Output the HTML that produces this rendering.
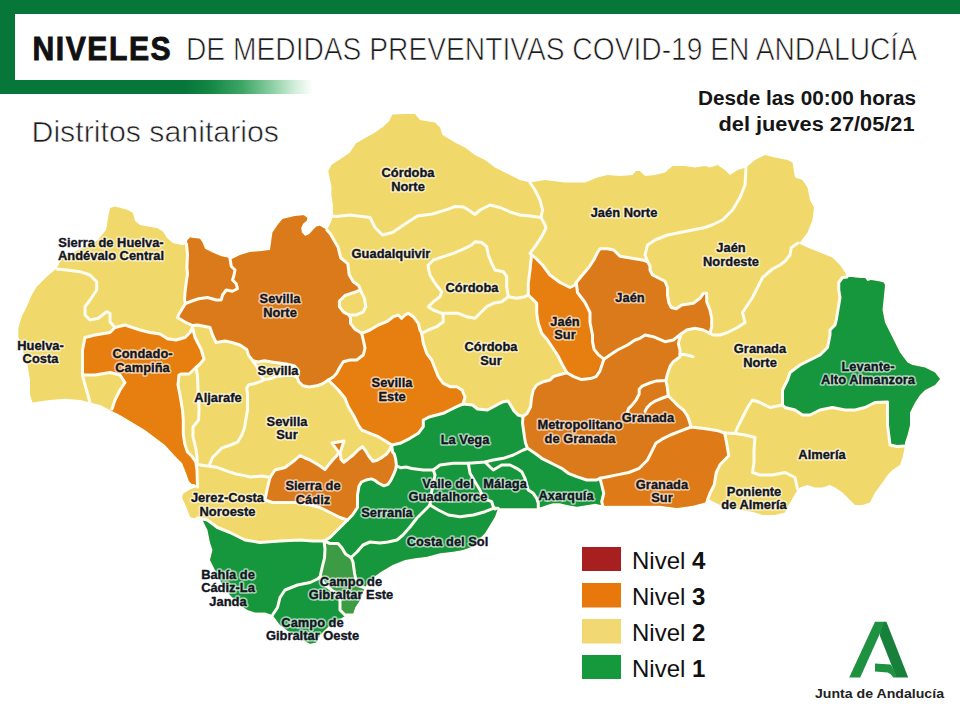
<!DOCTYPE html>
<html><head><meta charset="utf-8"><title>Niveles de medidas preventivas COVID-19 en Andalucía</title>
<style>
html,body{margin:0;padding:0;background:#fff;}
body{width:960px;height:720px;position:relative;overflow:hidden;font-family:"Liberation Sans",Arial,sans-serif;}
svg{position:absolute;left:0;top:0;}
</style></head><body>
<svg width="960" height="720" viewBox="0 0 960 720">
<defs>
<linearGradient id="fade" x1="0" x2="1" y1="0" y2="0">
<stop offset="0" stop-color="#067739"/>
<stop offset="0.2" stop-color="#138743"/>
<stop offset="0.45" stop-color="#3ea766"/>
<stop offset="0.68" stop-color="#8ccfa2"/>
<stop offset="0.86" stop-color="#d2eedb"/>
<stop offset="1" stop-color="#ffffff"/>
</linearGradient>
</defs>
<rect x="0" y="0" width="960" height="14" fill="#067739"/>
<rect x="0" y="0" width="15" height="94" fill="#067739"/>
<rect x="0" y="80" width="185" height="14" fill="#067739"/>
<rect x="185" y="80" width="128" height="14" fill="url(#fade)"/>
<text transform="translate(32.5,59.5) scale(0.9,1)" x="0" y="0" font-family="Liberation Sans, Arial, sans-serif" font-weight="bold" font-size="33.5" fill="#111" stroke="#111" stroke-width="0.9" textLength="153.5" lengthAdjust="spacing">NIVELES</text>
<text x="186" y="59.5" font-family="Liberation Sans, Arial, sans-serif" font-size="30.8" fill="#1a1a1a" stroke="#fff" stroke-width="0.7" paint-order="normal" textLength="731" lengthAdjust="spacingAndGlyphs">DE MEDIDAS PREVENTIVAS COVID-19 EN ANDALUCÍA</text>
<text x="31.5" y="141.5" font-family="Liberation Sans, Arial, sans-serif" font-size="29.5" fill="#1e1e1e" stroke="#fff" stroke-width="0.6" textLength="247.5" lengthAdjust="spacingAndGlyphs">Distritos sanitarios</text>
<text x="916" y="104.7" text-anchor="end" font-family="Liberation Sans, Arial, sans-serif" font-weight="bold" font-size="20" fill="#151515" textLength="218" lengthAdjust="spacingAndGlyphs">Desde las 00:00 horas</text>
<text x="914.5" y="130.8" text-anchor="end" font-family="Liberation Sans, Arial, sans-serif" font-weight="bold" font-size="20" fill="#151515" textLength="196" lengthAdjust="spacingAndGlyphs">del jueves 27/05/21</text>
<defs><clipPath id="land"><polygon points="110,208 115,206.5 128,210 133,213 135,221 140,225 148,226.5 157,228 163,231.5 167,238 173,243 182,245 186.5,244 187.5,240 190,237.5 200,238.75 202.5,242.5 205,248.75 212.5,252.5 221.25,256.25 227.5,257.5 230,259.5 232.5,258.75 240,255 250,251.9 260,251.25 270,250 272.5,232.5 277.5,225 282.5,219 295,216 303.9,215.3 307.4,218 306.7,220.8 303.2,223.6 301.1,227.8 301.8,232.6 305.3,236.1 309.4,234 312.9,229.9 316.4,226.4 319.9,225.7 323.3,227.8 327,230 330.5,223 332.9,216 332.9,204.7 331.4,195.5 331.4,186.3 329.8,178.7 328.3,171 331.4,165 340.5,158.9 349.7,152.7 355.8,143.6 363.4,139 374.1,132.9 383.3,126.8 389.4,120.7 392.4,114.6 405,114 415,114 420,120 435,122.5 440,127.5 442.5,135 455,142.5 465,147.5 475,155 485,160 495,167.5 510,175 520,180 530,182.5 545,180 565,182.5 585,182.5 597.5,177.5 607.5,175 620,176 632.5,175 636,171 640,171 645,176 655,175 665,172.5 672.5,166 685,166 695,167.5 705,166 710,167.5 717.5,165 725,170 730,175 737.5,170 746,167.5 755,160 765,155 775,157.5 787.5,160 792.5,162.5 795,177.5 802.5,180 807.5,187.5 810,200 814,207.5 812.5,220 807.5,232.5 800,242.5 798,243 807.5,247.5 820,252.5 832.5,257.5 840,265 845,272.5 847,277 852.5,276.9 855,277.5 861,278 865,278 867.5,281 871,280 878.75,281.25 883.75,282.5 885,285 884,295 882.5,310 885,322.5 892.5,337.5 900,352.5 907.5,362.5 912.5,365 925,367.5 935,372.5 940,379 935,385 925,390 920,395 915,402.5 910,412.5 910,425 907.5,435 905,442.5 905,446 902.5,457.5 900,465 892.5,470 887.5,475 882.5,482.5 875,492.5 870,502.5 862.5,505 855,505 850,500 842.5,492.5 835,487.5 830,485 822.5,487.5 815,487.5 807.5,485 800,487.5 797.5,490 790,502.5 785,512.5 775,515 762.5,515 755,512.5 742.5,510 730,507.5 720,505 710,500 707.5,498 705,502.5 693,505.8 677,508 660,505.8 643,505.8 627,505.8 614,505.8 604,505.8 595.4,503.75 583,505.8 577,506.7 567,505 560,503.3 553,503.3 547,505 542,506.7 537,508.3 523,508.3 510,508.3 502,508.3 498,508.3 495,516.7 490,525 485,533.3 478,540 472,546.7 463,550 453,551.7 440,553.3 427,556.7 415,558.3 405,560 392.5,565 380,572.5 370,580 365,587.5 362,594 360,600 355,607.5 352.5,615 345,616 342.5,617.5 335,622.5 327.5,627.5 320,635 316,642.5 310,643.75 302.5,640 290,632.5 280,625 272.5,615 265,612.5 255,612.5 247.5,610 240,605 230,595 222.5,585 215,570 210,560 212.5,550 210,542.5 207.5,530 202.5,520 190.3,517.2 187.5,510.3 184.7,503.3 182,497.8 183.3,493.6 190,489.4 197,486.7 194.4,484 191.7,484 188.9,481 186,472.8 182,463 175,456 165,445 155,437.5 145,430 132.5,422.5 120,415 110,410 100,405 90,402.5 80,400 65,398.75 50,400 32.5,402.5 30,395 30,380 27.5,365 22.5,350 18.3,336.7 18.3,328.3 21.7,316.7 26.7,306.7 31.7,295 36.7,286.7 46.7,276.7 56.7,268.3 62,258 80,249 98,240 106,230 108.3,216.7"/></clipPath></defs>
<polygon points="110,208 115,206.5 128,210 133,213 135,221 140,225 148,226.5 157,228 163,231.5 167,238 173,243 182,245 186.5,244 187.5,240 190,237.5 200,238.75 202.5,242.5 205,248.75 212.5,252.5 221.25,256.25 227.5,257.5 230,259.5 232.5,258.75 240,255 250,251.9 260,251.25 270,250 272.5,232.5 277.5,225 282.5,219 295,216 303.9,215.3 307.4,218 306.7,220.8 303.2,223.6 301.1,227.8 301.8,232.6 305.3,236.1 309.4,234 312.9,229.9 316.4,226.4 319.9,225.7 323.3,227.8 327,230 330.5,223 332.9,216 332.9,204.7 331.4,195.5 331.4,186.3 329.8,178.7 328.3,171 331.4,165 340.5,158.9 349.7,152.7 355.8,143.6 363.4,139 374.1,132.9 383.3,126.8 389.4,120.7 392.4,114.6 405,114 415,114 420,120 435,122.5 440,127.5 442.5,135 455,142.5 465,147.5 475,155 485,160 495,167.5 510,175 520,180 530,182.5 545,180 565,182.5 585,182.5 597.5,177.5 607.5,175 620,176 632.5,175 636,171 640,171 645,176 655,175 665,172.5 672.5,166 685,166 695,167.5 705,166 710,167.5 717.5,165 725,170 730,175 737.5,170 746,167.5 755,160 765,155 775,157.5 787.5,160 792.5,162.5 795,177.5 802.5,180 807.5,187.5 810,200 814,207.5 812.5,220 807.5,232.5 800,242.5 798,243 807.5,247.5 820,252.5 832.5,257.5 840,265 845,272.5 847,277 852.5,276.9 855,277.5 861,278 865,278 867.5,281 871,280 878.75,281.25 883.75,282.5 885,285 884,295 882.5,310 885,322.5 892.5,337.5 900,352.5 907.5,362.5 912.5,365 925,367.5 935,372.5 940,379 935,385 925,390 920,395 915,402.5 910,412.5 910,425 907.5,435 905,442.5 905,446 902.5,457.5 900,465 892.5,470 887.5,475 882.5,482.5 875,492.5 870,502.5 862.5,505 855,505 850,500 842.5,492.5 835,487.5 830,485 822.5,487.5 815,487.5 807.5,485 800,487.5 797.5,490 790,502.5 785,512.5 775,515 762.5,515 755,512.5 742.5,510 730,507.5 720,505 710,500 707.5,498 705,502.5 693,505.8 677,508 660,505.8 643,505.8 627,505.8 614,505.8 604,505.8 595.4,503.75 583,505.8 577,506.7 567,505 560,503.3 553,503.3 547,505 542,506.7 537,508.3 523,508.3 510,508.3 502,508.3 498,508.3 495,516.7 490,525 485,533.3 478,540 472,546.7 463,550 453,551.7 440,553.3 427,556.7 415,558.3 405,560 392.5,565 380,572.5 370,580 365,587.5 362,594 360,600 355,607.5 352.5,615 345,616 342.5,617.5 335,622.5 327.5,627.5 320,635 316,642.5 310,643.75 302.5,640 290,632.5 280,625 272.5,615 265,612.5 255,612.5 247.5,610 240,605 230,595 222.5,585 215,570 210,560 212.5,550 210,542.5 207.5,530 202.5,520 190.3,517.2 187.5,510.3 184.7,503.3 182,497.8 183.3,493.6 190,489.4 197,486.7 194.4,484 191.7,484 188.9,481 186,472.8 182,463 175,456 165,445 155,437.5 145,430 132.5,422.5 120,415 110,410 100,405 90,402.5 80,400 65,398.75 50,400 32.5,402.5 30,395 30,380 27.5,365 22.5,350 18.3,336.7 18.3,328.3 21.7,316.7 26.7,306.7 31.7,295 36.7,286.7 46.7,276.7 56.7,268.3 62,258 80,249 98,240 106,230 108.3,216.7" fill="#F1D86B"/>
<g clip-path="url(#land)">
<polygon points="186,200 323,200 323,226 327,230 330.5,234 333.9,240 338,247 340.8,258 347.8,263.6 349.2,274.7 353.3,281.7 358.9,285.8 360.3,290 353.3,292.8 345,295.5 339.4,301 339.4,306.7 343.6,312.2 349.2,315 350.5,317.8 350.5,323.3 354.7,328.9 361.7,333.3 363.3,340 365,348 363.3,355 356.7,360 350,360 343.3,361.7 340,367 336.7,373.3 333.3,377 328.3,380 322.7,383.75 316.5,385.8 309.2,386.9 302.9,385.8 298.75,381.7 297,377 298.75,371.25 294.6,366 286.25,364 279,363 271.7,361.9 264.4,360.8 258,361.9 252.9,360.8 248.75,355.6 246.7,349.4 240.4,345.2 232,342.5 225,341 216,342.5 212.5,335 210,327.5 197.5,325 192.5,325.5 185,322 177.5,317.5 179,314 182,309 185.5,303.5 184.5,300 185,292.5 186.25,282.5 187.5,273.75 186.9,267.5 187.5,255 186.5,244" fill="#DB7A1A"/>
<polygon points="85,337.5 95,335 110,332.5 115,327.5 125,325 140,330 150,332.5 160,334 167.5,338.75 176,340 185,337.5 190,332.5 192.5,327.5 195,337.5 201,349 204,359 200,364 196,367.5 189,374 181,374 179,375 178,385 180,395 182.5,410 183.3,420 183.3,434 184.7,443.6 187.5,452 191.7,456 195.8,462 197,470 196.5,485 187,486 178,470 140,445 104,418 112,409 115,400 120,390 125,382.5 120,375 110,372.5 95,375 82.5,375 82.5,362.5 82.5,350" fill="#E67F10"/>
<polygon points="361.7,333.3 370,330 378.3,325 386.7,321.7 393.3,316.7 398.3,315 401.7,318.3 405,315 408.3,313.3 413.3,316.7 418.3,323.3 420,330 421.7,333.3 423.3,343.3 426.7,353.3 431.7,360 435,368.3 438.3,376.7 443.3,383.3 450,386.7 456.7,386.7 462,390 465,397 463,404 456.7,406.7 450,410 443.3,413.3 436.7,415 430,416.7 423.3,420 423.3,426.7 418.3,433.3 410,438.3 400,443.3 391.7,445 386.7,441.7 378.3,436.7 370,433.3 361.7,430 358.3,425 353.3,415 348.3,406.7 345,398.3 338.3,390 328.3,380 333.3,377 336.7,373.3 340,367 343.3,361.7 350,360 356.7,360 363.3,355 365,348 363.3,340" fill="#E67F10"/>
<polygon points="270,477.5 275,470 285,467.5 295,460 300,455.5 305,458 310.4,460.2 315.6,463.3 320.8,466.5 325,469.6 328.1,465.4 333.3,459.2 336.5,456 338.8,452.5 332,443 344,441 340.2,452.5 341,459.2 343.75,462.3 347.9,459.2 353.1,455 358.3,449.8 362.5,446.7 365.6,450.8 368.75,456 372.9,461.25 377.1,460.2 382.3,457.1 386.5,454 389.6,449.8 391.7,445 392.5,452 394.3,454 395.7,459.4 396.4,465 395.7,469.2 393.6,474.7 390.8,480.3 388,484.4 383.9,485.8 378.3,483 374.9,480.3 371.4,478.9 366,480 361.5,482 359,486 357.5,495 357.5,507.5 352.5,515 347.5,520 340,517.5 330,512.5 320,507.5 310,505 297.5,502.5 285,502.5 272.5,502.5 265,500 267.5,487.5" fill="#DB7A1B"/>
<polygon points="531.5,255 535,257.5 542.5,265 550,275 560,282.5 570,287.5 575,285 576.25,282.5 577.5,292.5 585,302.5 590,312.5 590,322.5 592.5,335 592.5,341.7 594.1,349.4 598,354.3 603.9,359.2 600,370.8 596.1,376.6 590.3,378.6 581.5,379.6 573.7,376.6 566.9,372.8 562.5,365 557.5,355 547.5,340 541.7,333.3 538.3,323.3 536.7,313.3 536.7,303.3 531.7,298.3 528.3,295 528.3,283.3 530,270" fill="#E67F10"/>
<polygon points="576.25,282.5 581.25,276.25 588.75,267.5 593.75,260 597.5,252.5 600,248.75 607.5,248.75 613.75,250 617.5,253.75 620,256.25 627.5,257.5 635,258.75 642.5,260 647.5,261.5 650,266 650,270 652.5,275 660,278.75 665,281.25 667.5,287.5 667.5,295 668.75,302.5 671.25,307.5 676.25,308.75 681.7,305 693.3,303.3 700,298.3 703.3,293.3 706.7,293.3 706.7,301.7 710,310 711.7,318.3 711.7,326.7 710,333.3 703.3,330 695,328.3 686.7,330 681,334 673.3,340 665,341.7 653.3,336.7 645,335 640,338.3 635,340 627.5,345 617.5,350 610,355 603.9,359.2 598,354.3 594.1,349.4 592.5,341.7 592.5,335 590,322.5 590,312.5 585,302.5 577.5,292.5" fill="#DB7A1A"/>
<polygon points="603.9,359.2 610,355 617.5,350 627.5,345 635,340 640,338.3 645,335 653.3,336.7 665,341.7 673.3,340 681,334 678.3,343.3 680,350 680,356.7 673.3,361.7 670.3,365.8 667.3,374.6 665.9,380.4 667.3,387.2 668.3,396 673.2,400.8 678,405.7 683.9,410.5 687.7,416.4 689.7,422.2 691,427 680.8,430.8 670.4,435 662,439.2 655.8,443.3 651.7,451.7 647.5,460 639.2,468.3 628.75,472.5 618.3,474.6 608,476.7 600,478.3 596.7,480 586.7,480 576.7,476.7 568.3,473.3 561.7,468.3 555,465 548.3,461.7 541.7,458.3 535,453.3 527.5,448.3 525.5,443 524.5,437 523.5,430 522.5,423 523,416.5 527,413.5 530.5,407 531.5,398 533.3,390 536.7,385 543.3,381.7 550,380 553.3,376.6 559.2,374.7 566.9,372.8 580,377.5 592.5,375 597.5,367.5" fill="#DB7A1B"/>
<polygon points="600,478.3 608,476.7 618.3,474.6 628.75,472.5 639.2,468.3 647.5,460 651.7,451.7 655.8,443.3 662,439.2 670.4,435 680.8,430.8 691,427 705.8,428.75 718.3,430.8 724.6,433 726.7,443.3 728.75,455.8 720.4,464.2 716.25,472.5 714.2,485 710,493.3 707.5,500 708,525 600,525 603,507 601.7,501.7 603.75,493.3 601.7,485" fill="#DE7B18"/>
<polygon points="842.5,277.5 847,277 850,265 895,265 955,380 905,446 897,446.5 890,445 887.5,425 887.5,402 875,402.5 865,407.5 855,410 845,410 832.5,407.5 820,410 810,415 802.5,415 795,410 785,407.5 782.5,405 782.5,390 787.5,380 790,372.5 800,365 810,360 820,355 827.5,347.5 830,335 830,330 835,325 836.25,320 837.5,312.5 838.75,305 840,297.5 838.75,290 838.75,282.5" fill="#16963D"/>
<polygon points="391.7,445 400,443.3 410,438.3 418.3,433.3 423.3,426.7 423.3,420 430,416.7 436.7,415 443.3,413.3 450,410 456.7,406.7 463,404 472.5,405 477.5,409 487.5,410 496.7,405 503.3,401.7 508,401 510.5,405 514,411 518,415 523,416.5 522.5,423 523.5,430 524.5,437 525.5,443 527.5,448.3 535,453.3 541.7,458.3 548.3,461.7 555,465 561.7,468.3 568.3,473.3 576.7,476.7 586.7,480 596.7,480 600,478.3 601.7,485 603.75,493.3 601.7,501.7 603,507 603,530 420,610 330,670 250,640 195,570 190,540 197,518 207.5,520 217.5,527.5 230,532.5 245,540 260,542.5 280,541 300,540 312.5,541 324,541 330,537.5 335,532.5 340,527.5 345,522.5 347.5,520 352.5,515 357.5,507.5 357.5,495 359,486 361.5,482 366,480 371.4,478.9 374.9,480.3 378.3,483 383.9,485.8 388,484.4 390.8,480.3 393.6,474.7 395.7,469.2 396.4,465 395.7,459.4 394.3,454 392.5,452" fill="#16963D"/>
<polygon points="324,541 330,543.5 338,543.5 342,548 345.5,554 351,557.5 353,562 354.5,573 356,580 360,586 365,588 372,600 356,622 345,615 340,610 340,600 335,592.5 325,585 320,577 322.5,566 324.5,558 325,549" fill="#3C9C46"/>
</g>
<g fill="none" stroke="#fffdf2" stroke-width="3" stroke-linejoin="round" stroke-linecap="round">
<polyline points="56.7,269 66.7,270 80,271.7 90,275 96.7,281.7 96.7,290 90,300 85,306.7 85,315 90,320 98.3,318.3 106.7,311.7 110,313.3 110,321.7 115,327.5"/>
<polyline points="85,337.5 82.5,350 82.5,362.5 82.5,375"/>
<polyline points="82.5,375 85,385 88,395 90,403"/>
<polyline points="85,337.5 95,335 110,332.5 115,327.5 125,325 140,330 150,332.5 160,334 167.5,338.75 176,340 185,337.5 190,332.5 192.5,327.5"/>
<polyline points="82.5,375 95,375 110,372.5 120,375 125,382.5 120,390 115,400 112,409"/>
<polyline points="192.5,327.5 195,337.5 201,349 204,359 200,364 196,367.5 189,374 181,374 179,375 178,385 180,395 182.5,410 183.3,420 183.3,434 184.7,443.6 187.5,452 191.7,456 195.8,462 197,470 197.5,487"/>
<polyline points="196,367.5 197.5,376 198,390 199,410 198.6,420 193,427 193,437 195.8,448 197.2,459 197.2,464.4"/>
<polyline points="186.5,244 187.5,255 186.9,267.5 187.5,273.75 186.25,282.5 185,292.5 184.5,300 185.5,303.5 182,309 179,314 177.5,317.5 185,322 192.5,325.5"/>
<polyline points="230,258.5 231.25,266.25 235,270 233.75,276.25 232.5,280 236.25,283.75 237.5,288.75 232.5,291.25 226.25,290 222.5,295 221.25,300 216.25,300 207.5,297.5 198.75,298.75 191.25,301.25 185.5,303.5"/>
<polyline points="192.5,325.5 197.5,325 210,327.5 212.5,335 216,342.5 225,341 232,342.5 240.4,345.2 246.7,349.4 248.75,355.6 252.9,360.8 258,361.9 264.4,360.8 271.7,361.9 279,363 286.25,364 294.6,366 298.75,371.25 297,377 298.75,381.7 302.9,385.8 309.2,386.9 316.5,385.8 322.7,383.75 328.3,380"/>
<polyline points="252.9,360.8 257,367 260.2,373.3 261.25,376.5 264.4,379.6 260.2,381.7 254,383.75 248.75,384.8 246.7,388 247.5,394 247.5,410 245.8,420 244.4,428.3 241.7,435.3 237.5,442.2 230.6,445 222.2,447.8 212.5,457.5 209.7,464.4"/>
<polyline points="264.4,379.6 271.7,378.5 275.8,376.5 284.2,375.4 292.5,375.4 297,377"/>
<polyline points="328.3,380 333.3,377 336.7,373.3 340,367 343.3,361.7 350,360 356.7,360 363.3,355 365,348 363.3,340 361.7,333.3"/>
<polyline points="327,230 330.5,234 333.9,240 338,247 340.8,258 347.8,263.6 349.2,274.7 353.3,281.7 358.9,285.8 360.3,290 353.3,292.8 345,295.5 339.4,301 339.4,306.7 343.6,312.2 349.2,315 350.5,317.8 350.5,323.3 354.7,328.9 361.7,333.3"/>
<polyline points="360.3,290 361.7,292.8 364.4,298.3 365.8,306.7 363,312.2 356.1,315 349.2,315"/>
<polyline points="361.7,333.3 370,330 378.3,325 386.7,321.7 393.3,316.7 398.3,315 401.7,318.3 405,315 408.3,313.3 413.3,316.7 418.3,323.3 420,330 421.7,333.3"/>
<polyline points="421.7,333.3 423.3,343.3 426.7,353.3 431.7,360 435,368.3 438.3,376.7 443.3,383.3 450,386.7 456.7,386.7 462,390 465,397 463,404"/>
<polyline points="328.3,380 338.3,390 345,398.3 348.3,406.7 353.3,415 358.3,425 361.7,430 370,433.3 378.3,436.7 386.7,441.7 391.7,445 400,443.3 410,438.3 418.3,433.3 423.3,426.7 423.3,420 430,416.7 436.7,415 443.3,413.3 450,410 456.7,406.7 463,404"/>
<polyline points="463,404 472.5,405 477.5,409 487.5,410 496.7,405 503.3,401.7 508,401 510.5,405 514,411 518,415 523,416.5 527,413.5 530.5,407 531.5,398 533.3,390 536.7,385 543.3,381.7 550,380 553.3,376.6 559.2,374.7 566.9,372.8"/>
<polyline points="197.2,464.4 205.6,465.8 216.7,467.2 227.8,471.4 236,474 244.4,475.6 250,477 262.5,476 270,477.5"/>
<polyline points="270,477.5 275,470 285,467.5 295,460 300,455.5 305,458 310.4,460.2 315.6,463.3 320.8,466.5 325,469.6 328.1,465.4 333.3,459.2 336.5,456 338.8,452.5 332,443 344,441 340.2,452.5 341,459.2 343.75,462.3 347.9,459.2 353.1,455 358.3,449.8 362.5,446.7 365.6,450.8 368.75,456 372.9,461.25 377.1,460.2 382.3,457.1 386.5,454 389.6,449.8 391.7,445"/>
<polyline points="391.7,445 392.5,452 394.3,454 395.7,459.4 396.4,465 395.7,469.2 393.6,474.7 390.8,480.3 388,484.4 383.9,485.8 378.3,483 374.9,480.3 371.4,478.9 366,480 361.5,482 359,486 357.5,495 357.5,507.5 352.5,515 347.5,520"/>
<polyline points="270,477.5 267.5,487.5 265,500 272.5,502.5 285,502.5 297.5,502.5 310,505 320,507.5 330,512.5 340,517.5 347.5,520"/>
<polyline points="347.5,520 345,522.5 340,527.5 335,532.5 330,537.5 324,541"/>
<polyline points="197,518 207.5,520 217.5,527.5 230,532.5 245,540 260,542.5 280,541 300,540 312.5,541 324,541"/>
<polyline points="396.4,466 401.25,467.8 406,467 411.7,468.5 423.3,470 433.3,470 440,465 453.3,463.3 468.3,463.3 485,462 493.3,460 503.3,458.3 513.3,455 523.3,450 527.5,448.3"/>
<polyline points="433.3,470 435,475 433,485 431,495 430,505"/>
<polyline points="430,505 438.3,510 448.3,515 460,516.7 473.3,515 485,511.7 493.3,508.3 498.3,508.3"/>
<polyline points="468.3,463.3 470,473.3 475,481.7 480,490 483.3,498.3 491.7,501.7 493.3,506.7 495,509"/>
<polyline points="485,462 490,467 493.3,470 501.7,465 510,465 516.7,468.3 521.7,471.7 525,478.3 526.7,485 528.3,490 533.3,493.3 536.7,498.3 538.3,503.3 538.3,509"/>
<polyline points="430,505 425,510 417,518 410,527 403,535 397,540 388,542 380,543 370,542 363,545 357,552 351,557.5"/>
<polyline points="324,541 330,543.5 338,543.5 342,548 345.5,554 351,557.5"/>
<polyline points="351,557.5 353,562 354.5,573 356,580 360,586 365,588"/>
<polyline points="324,541 325,549 324.5,558 322.5,566 320,577"/>
<polyline points="320,577 317.5,579 310,582.5 297.5,585 285,590 280,597.5 277.5,607.5 272.5,615"/>
<polyline points="320,577 325,585 335,592.5 340,600 340,610 345,615 352.5,615"/>
<polyline points="332.9,216 336,216.5 350,215 370,217.5 375,227.5 382.5,235 392.5,232.5 405,224 417.5,216 432.5,214 447.5,209.4 455,206.5 463.75,207 470,211 475,214.4 480,210 490,205 500,207.5 510,212 520,215 530,216 541,217.5"/>
<polyline points="530,182.5 535,190 540,200 542.5,210 541,217.5"/>
<polyline points="541,217.5 545,225 546,228 541.7,236.7 535,246.7 530,253.3 531.5,255"/>
<polyline points="531.5,255 535,257.5 542.5,265 550,275 560,282.5 570,287.5 575,285 576.25,282.5"/>
<polyline points="576.25,282.5 581.25,276.25 588.75,267.5 593.75,260 597.5,252.5 600,248.75 607.5,248.75 613.75,250 617.5,253.75 620,256.25 627.5,257.5 635,258.75 642.5,260 647.5,261.5"/>
<polyline points="647.5,261.5 650,266 650,270 652.5,275 660,278.75 665,281.25 667.5,287.5 667.5,295 668.75,302.5 671.25,307.5 676.25,308.75 681.7,305 693.3,303.3 700,298.3 703.3,293.3 706.7,293.3 706.7,301.7 710,310 711.7,318.3 711.7,326.7 710,333.3"/>
<polyline points="746,167.5 745,185 740,197.5 732.5,210 722.5,220 712,225 705,227.5 692.5,230 680,232.5 667.5,235 655,240 647.5,245 645,255 647.5,261.5"/>
<polyline points="798,243 791.25,247.5 790,255 785,261.25 780,265 772.5,269 762.5,277.5 757.5,287.5 752.5,297.5 747.5,305 742.5,312.5 745,322.5 737.5,327.5 727.5,332.5 720,335 713.3,335 710,333.3"/>
<polyline points="710,333.3 703.3,330 695,328.3 686.7,330 681,334 673.3,340 665,341.7 653.3,336.7 645,335 640,338.3 635,340 627.5,345 617.5,350 610,355 603.9,359.2"/>
<polyline points="576.25,282.5 577.5,292.5 585,302.5 590,312.5 590,322.5 592.5,335 592.5,341.7 594.1,349.4 598,354.3 603.9,359.2"/>
<polyline points="603.9,359.2 600,370.8 596.1,376.6 590.3,378.6 581.5,379.6 573.7,376.6 566.9,372.8"/>
<polyline points="566.9,372.8 562.5,365 557.5,355 547.5,340 541.7,333.3 538.3,323.3 536.7,313.3 536.7,303.3 531.7,298.3 528.3,295 528.3,283.3 530,270 531.5,255"/>
<polyline points="508.3,296.7 516.7,298.3 525,296.7 528.3,295"/>
<polyline points="443,314 443.3,321.7 436.7,326.7 428.3,330 421.7,333.3"/>
<polyline points="428.3,265 433.3,260 443.3,256.7 453.3,253.3 463.3,249.2 471.7,245 475,241.7 481.7,242.5 486.7,246.7 488.3,255 491.7,263.3 495,270 503.3,271.7 506.7,276.7 506.7,286.7 508.3,296.7 501.7,301.7 493.3,303.3 486.7,306.7 480,313.3 475,318.3 466.7,316.7 458.3,313.3 448.3,313.3 441.7,313.3 433.3,310 428.3,306.7 433.3,301.7 440,296.7 441.7,291.7 435,283.3 430,275 428.3,268.3 428.3,265"/>
<polyline points="681,334 678.3,343.3 680,350 680,356.7 673.3,361.7 670.3,365.8 667.3,374.6 665.9,380.4 667.3,387.2 668.3,396 673.2,400.8 678,405.7 683.9,410.5 687.7,416.4 689.7,422.2 691,427"/>
<polyline points="680,354 687,355 693,356.7"/>
<polyline points="665.9,380.4 656.6,380.9 648.9,383.3 642,386.2 639.2,389.2 639.2,394 636.2,399.8 632.4,404.7 628.5,408.6 627.5,412"/>
<polyline points="668.3,396 662.5,398 655.7,400.8 650.8,403.7 647,407.6 645,411.5"/>
<polyline points="691,427 680.8,430.8 670.4,435 662,439.2 655.8,443.3 651.7,451.7 647.5,460 639.2,468.3 628.75,472.5 618.3,474.6 608,476.7 600,478.3"/>
<polyline points="523,416.5 522.5,423 523.5,430 524.5,437 525.5,443 527.5,448.3 535,453.3 541.7,458.3 548.3,461.7 555,465 561.7,468.3 568.3,473.3 576.7,476.7 586.7,480 596.7,480 600,478.3"/>
<polyline points="600,478.3 601.7,485 603.75,493.3 601.7,501.7 603,507"/>
<polyline points="691,427 705.8,428.75 718.3,430.8 724.6,433"/>
<polyline points="724.6,433 726.7,443.3 728.75,455.8 720.4,464.2 716.25,472.5 714.2,485 710,493.3 707.5,500"/>
<polyline points="724.6,433 735,433.5 745,435 755,437.5 754,450 754,462.5 752.5,472.5 760,475 772.5,475 785,472.5 795,477.5 797.5,489"/>
<polyline points="782.5,405 770,407.5 760,402.5 752.5,400 747.5,407.5 742.5,417.5 737.5,427.5 735,433.5"/>
<polyline points="782.5,405 782.5,390 787.5,380 790,372.5 800,365 810,360 820,355 827.5,347.5 830,335 830,330 835,325 836.25,320 837.5,312.5 838.75,305 840,297.5 838.75,290 838.75,282.5 842.5,277.5 847,277"/>
<polyline points="782.5,405 785,407.5 795,410 802.5,415 810,415 820,410 832.5,407.5 845,410 855,410 865,407.5 875,402.5 887.5,402 887.5,425 890,445 897,446.5 905,446"/>
</g>
<g font-family="Liberation Sans, Arial, sans-serif" font-weight="bold" font-size="12.9" text-anchor="middle" fill="none" stroke="#ffffff" stroke-opacity="0.6" stroke-width="3.4" stroke-linejoin="round">
<text x="111" y="246.5">Sierra de Huelva-</text>
<text x="111" y="260">Andévalo Central</text>
<text x="40.5" y="349.5">Huelva-</text>
<text x="40.5" y="363">Costa</text>
<text x="142.5" y="358">Condado-</text>
<text x="142.5" y="371.5">Campiña</text>
<text x="280" y="303">Sevilla</text>
<text x="280" y="316.5">Norte</text>
<text x="278" y="374.5">Sevilla</text>
<text x="218" y="401.5">Aljarafe</text>
<text x="287" y="425.5">Sevilla</text>
<text x="287" y="439">Sur</text>
<text x="392" y="387">Sevilla</text>
<text x="392" y="400.5">Este</text>
<text x="408" y="177">Córdoba</text>
<text x="408" y="190.5">Norte</text>
<text x="391" y="257.5">Guadalquivir</text>
<text x="472" y="292">Córdoba</text>
<text x="491" y="351">Córdoba</text>
<text x="491" y="364.5">Sur</text>
<text x="624" y="217">Jaén Norte</text>
<text x="731" y="252">Jaén</text>
<text x="731" y="265.5">Nordeste</text>
<text x="565" y="325.5">Jaén</text>
<text x="565" y="339">Sur</text>
<text x="630" y="302">Jaén</text>
<text x="760" y="353">Granada</text>
<text x="760" y="366.5">Norte</text>
<text x="868" y="370.5">Levante-</text>
<text x="868" y="384">Alto Almanzora</text>
<text x="822" y="459">Almería</text>
<text x="754" y="495.5">Poniente</text>
<text x="754" y="509">de Almería</text>
<text x="580" y="429">Metropolitano</text>
<text x="580" y="442.5">de Granada</text>
<text x="648" y="421.5">Granada</text>
<text x="662" y="488.5">Granada</text>
<text x="662" y="502">Sur</text>
<text x="465" y="444">La Vega</text>
<text x="448" y="487.5">Valle del</text>
<text x="448" y="501">Guadalhorce</text>
<text x="505" y="487.5">Málaga</text>
<text x="566" y="499.5">Axarquía</text>
<text x="387" y="516.5">Serranía</text>
<text x="447.5" y="545.5">Costa del Sol</text>
<text x="313" y="490">Sierra de</text>
<text x="313" y="503.5">Cádiz</text>
<text x="227.5" y="502">Jerez-Costa</text>
<text x="227.5" y="515.5">Noroeste</text>
<text x="228" y="578.5">Bahía de</text>
<text x="228" y="592">Cádiz-La</text>
<text x="228" y="605.5">Janda</text>
<text x="351" y="585.5">Campo de</text>
<text x="351" y="599">Gibraltar Este</text>
<text x="312.5" y="626.5">Campo de</text>
<text x="312.5" y="640">Gibraltar Oeste</text>
</g>
<g font-family="Liberation Sans, Arial, sans-serif" font-weight="bold" font-size="12.9" text-anchor="middle" fill="#13151f" stroke="#13151f" stroke-width="0.35" stroke-linejoin="round">
<text x="111" y="246.5">Sierra de Huelva-</text>
<text x="111" y="260">Andévalo Central</text>
<text x="40.5" y="349.5">Huelva-</text>
<text x="40.5" y="363">Costa</text>
<text x="142.5" y="358">Condado-</text>
<text x="142.5" y="371.5">Campiña</text>
<text x="280" y="303">Sevilla</text>
<text x="280" y="316.5">Norte</text>
<text x="278" y="374.5">Sevilla</text>
<text x="218" y="401.5">Aljarafe</text>
<text x="287" y="425.5">Sevilla</text>
<text x="287" y="439">Sur</text>
<text x="392" y="387">Sevilla</text>
<text x="392" y="400.5">Este</text>
<text x="408" y="177">Córdoba</text>
<text x="408" y="190.5">Norte</text>
<text x="391" y="257.5">Guadalquivir</text>
<text x="472" y="292">Córdoba</text>
<text x="491" y="351">Córdoba</text>
<text x="491" y="364.5">Sur</text>
<text x="624" y="217">Jaén Norte</text>
<text x="731" y="252">Jaén</text>
<text x="731" y="265.5">Nordeste</text>
<text x="565" y="325.5">Jaén</text>
<text x="565" y="339">Sur</text>
<text x="630" y="302">Jaén</text>
<text x="760" y="353">Granada</text>
<text x="760" y="366.5">Norte</text>
<text x="868" y="370.5">Levante-</text>
<text x="868" y="384">Alto Almanzora</text>
<text x="822" y="459">Almería</text>
<text x="754" y="495.5">Poniente</text>
<text x="754" y="509">de Almería</text>
<text x="580" y="429">Metropolitano</text>
<text x="580" y="442.5">de Granada</text>
<text x="648" y="421.5">Granada</text>
<text x="662" y="488.5">Granada</text>
<text x="662" y="502">Sur</text>
<text x="465" y="444">La Vega</text>
<text x="448" y="487.5">Valle del</text>
<text x="448" y="501">Guadalhorce</text>
<text x="505" y="487.5">Málaga</text>
<text x="566" y="499.5">Axarquía</text>
<text x="387" y="516.5">Serranía</text>
<text x="447.5" y="545.5">Costa del Sol</text>
<text x="313" y="490">Sierra de</text>
<text x="313" y="503.5">Cádiz</text>
<text x="227.5" y="502">Jerez-Costa</text>
<text x="227.5" y="515.5">Noroeste</text>
<text x="228" y="578.5">Bahía de</text>
<text x="228" y="592">Cádiz-La</text>
<text x="228" y="605.5">Janda</text>
<text x="351" y="585.5">Campo de</text>
<text x="351" y="599">Gibraltar Este</text>
<text x="312.5" y="626.5">Campo de</text>
<text x="312.5" y="640">Gibraltar Oeste</text>
</g>
<g>
<rect x="582" y="547" width="39" height="24" fill="#A81F1F"/>
<rect x="582" y="583" width="39" height="24.5" fill="#E8780C"/>
<rect x="582" y="619" width="39" height="24.5" fill="#F1D872"/>
<rect x="582" y="655" width="39" height="24" fill="#15993D"/>
</g>
<g font-family="Liberation Sans, Arial, sans-serif" font-size="24" fill="#111">
<text x="632" y="569">Nivel <tspan font-weight="bold">4</tspan></text>
<text x="632" y="605">Nivel <tspan font-weight="bold">3</tspan></text>
<text x="632" y="641">Nivel <tspan font-weight="bold">2</tspan></text>
<text x="632" y="677">Nivel <tspan font-weight="bold">1</tspan></text>
</g>
<polygon fill="#17803a" points="880.5,628 884,621.8 886.4,621.8 908.2,677.5 896.4,677.5 879.8,635.4"/>
<polygon fill="#1f9242" points="849.2,677.5 860.2,677.5 880.6,632 884.5,621.8 875,621.8"/>
<path fill="#1f9242" d="M875,663.4 L890.6,664.4 Q894,669 896.6,677.5 L893.4,677.5 Q891,673.5 887.6,672.4 L875,671.6 Z"/>
<text x="879.5" y="697.5" text-anchor="middle" font-family="Liberation Sans, Arial, sans-serif" font-weight="bold" font-size="13.6" fill="#222" textLength="129" lengthAdjust="spacingAndGlyphs">Junta de Andalucía</text>
</svg>
</body></html>
